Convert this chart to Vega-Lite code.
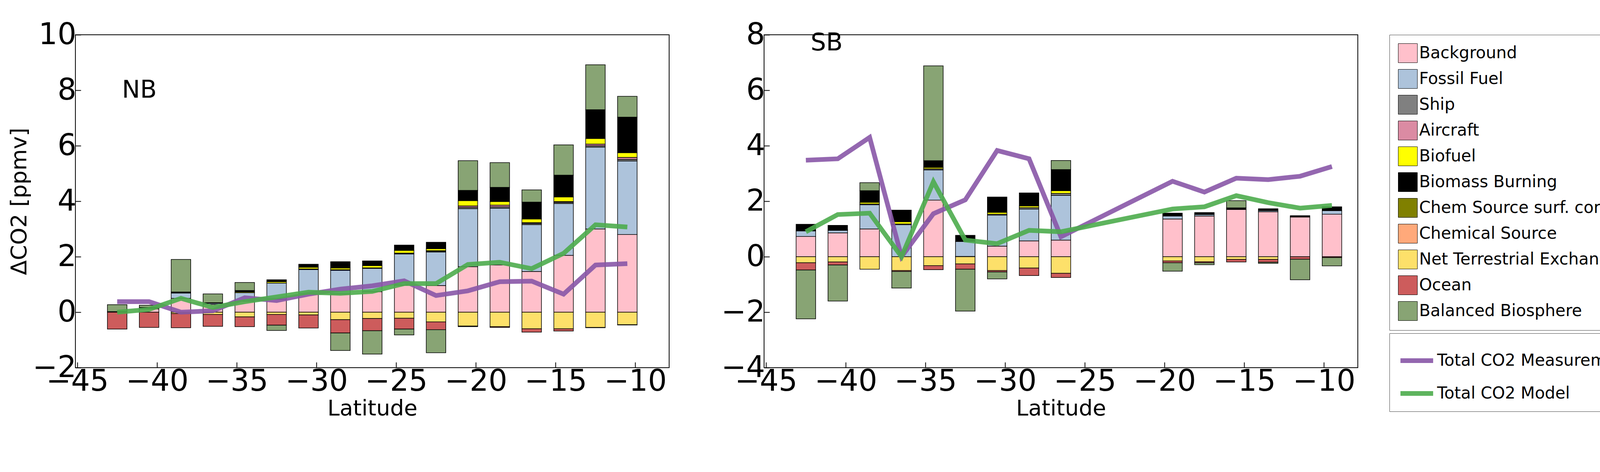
{
"$schema":"https://vega.github.io/schema/vega-lite/v6.json",
"background":"white",
"padding":{"left":20,"top":50,"right":20,"bottom":10},
"config":{"font":"DejaVu Sans","view":{"stroke":"black","strokeWidth":2},
"axis":{"grid":false,"domain":false,"tickColor":"black","tickSize":-14,"tickWidth":2,"labelFontSize":76,"labelColor":"black","titleFontSize":56,"titleFontWeight":"normal","titleColor":"black","labelPadding":12,"format":"d","labelOverlap":false,"labelFlush":false},
"legend":{"strokeColor":"#444","padding":22,"labelFontSize":42,"labelColor":"black","rowPadding":12,"offset":80,"labelLimit":900},
"concat":{"spacing":130}},
"datasets":{
"bars":[
{"p":"NB","lat":-42.5,"c":"Background","v":0.02},{"p":"NB","lat":-42.5,"c":"Balanced Biosphere","v":0.25},{"p":"NB","lat":-42.5,"c":"Ocean","v":-0.61},
{"p":"NB","lat":-40.5,"c":"Background","v":0.12},{"p":"NB","lat":-40.5,"c":"Fossil Fuel","v":0.03},{"p":"NB","lat":-40.5,"c":"Biomass Burning","v":0.02},{"p":"NB","lat":-40.5,"c":"Balanced Biosphere","v":0.08},{"p":"NB","lat":-40.5,"c":"Ocean","v":-0.55},
{"p":"NB","lat":-38.5,"c":"Background","v":0.5},{"p":"NB","lat":-38.5,"c":"Fossil Fuel","v":0.19},{"p":"NB","lat":-38.5,"c":"Biomass Burning","v":0.04},{"p":"NB","lat":-38.5,"c":"Balanced Biosphere","v":1.17},{"p":"NB","lat":-38.5,"c":"Net Terrestrial Exchange","v":-0.05},{"p":"NB","lat":-38.5,"c":"Ocean","v":-0.51},
{"p":"NB","lat":-36.5,"c":"Background","v":0.28},{"p":"NB","lat":-36.5,"c":"Fossil Fuel","v":0.04},{"p":"NB","lat":-36.5,"c":"Biomass Burning","v":0.02},{"p":"NB","lat":-36.5,"c":"Balanced Biosphere","v":0.32},{"p":"NB","lat":-36.5,"c":"Net Terrestrial Exchange","v":-0.08},{"p":"NB","lat":-36.5,"c":"Ocean","v":-0.43},
{"p":"NB","lat":-34.5,"c":"Background","v":0.4},{"p":"NB","lat":-34.5,"c":"Fossil Fuel","v":0.3},{"p":"NB","lat":-34.5,"c":"Biofuel","v":0.03},{"p":"NB","lat":-34.5,"c":"Biomass Burning","v":0.05},{"p":"NB","lat":-34.5,"c":"Balanced Biosphere","v":0.29},{"p":"NB","lat":-34.5,"c":"Net Terrestrial Exchange","v":-0.17},{"p":"NB","lat":-34.5,"c":"Ocean","v":-0.35},
{"p":"NB","lat":-32.5,"c":"Background","v":0.47},{"p":"NB","lat":-32.5,"c":"Fossil Fuel","v":0.58},{"p":"NB","lat":-32.5,"c":"Biofuel","v":0.05},{"p":"NB","lat":-32.5,"c":"Biomass Burning","v":0.07},{"p":"NB","lat":-32.5,"c":"Net Terrestrial Exchange","v":-0.08},{"p":"NB","lat":-32.5,"c":"Ocean","v":-0.39},{"p":"NB","lat":-32.5,"c":"Balanced Biosphere","v":-0.19},
{"p":"NB","lat":-30.5,"c":"Background","v":0.67},{"p":"NB","lat":-30.5,"c":"Fossil Fuel","v":0.87},{"p":"NB","lat":-30.5,"c":"Ship","v":0.02},{"p":"NB","lat":-30.5,"c":"Biofuel","v":0.06},{"p":"NB","lat":-30.5,"c":"Biomass Burning","v":0.11},{"p":"NB","lat":-30.5,"c":"Net Terrestrial Exchange","v":-0.1},{"p":"NB","lat":-30.5,"c":"Ocean","v":-0.47},
{"p":"NB","lat":-28.5,"c":"Background","v":0.66},{"p":"NB","lat":-28.5,"c":"Fossil Fuel","v":0.85},{"p":"NB","lat":-28.5,"c":"Ship","v":0.02},{"p":"NB","lat":-28.5,"c":"Biofuel","v":0.06},{"p":"NB","lat":-28.5,"c":"Biomass Burning","v":0.23},{"p":"NB","lat":-28.5,"c":"Net Terrestrial Exchange","v":-0.27},{"p":"NB","lat":-28.5,"c":"Ocean","v":-0.48},{"p":"NB","lat":-28.5,"c":"Balanced Biosphere","v":-0.63},
{"p":"NB","lat":-26.5,"c":"Background","v":0.74},{"p":"NB","lat":-26.5,"c":"Fossil Fuel","v":0.84},{"p":"NB","lat":-26.5,"c":"Ship","v":0.02},{"p":"NB","lat":-26.5,"c":"Biofuel","v":0.08},{"p":"NB","lat":-26.5,"c":"Biomass Burning","v":0.17},{"p":"NB","lat":-26.5,"c":"Net Terrestrial Exchange","v":-0.23},{"p":"NB","lat":-26.5,"c":"Ocean","v":-0.44},{"p":"NB","lat":-26.5,"c":"Balanced Biosphere","v":-0.84},
{"p":"NB","lat":-24.5,"c":"Background","v":0.98},{"p":"NB","lat":-24.5,"c":"Fossil Fuel","v":1.12},{"p":"NB","lat":-24.5,"c":"Ship","v":0.03},{"p":"NB","lat":-24.5,"c":"Biofuel","v":0.1},{"p":"NB","lat":-24.5,"c":"Biomass Burning","v":0.19},{"p":"NB","lat":-24.5,"c":"Net Terrestrial Exchange","v":-0.22},{"p":"NB","lat":-24.5,"c":"Ocean","v":-0.39},{"p":"NB","lat":-24.5,"c":"Balanced Biosphere","v":-0.21},
{"p":"NB","lat":-22.5,"c":"Background","v":0.96},{"p":"NB","lat":-22.5,"c":"Fossil Fuel","v":1.21},{"p":"NB","lat":-22.5,"c":"Ship","v":0.03},{"p":"NB","lat":-22.5,"c":"Aircraft","v":0.02},{"p":"NB","lat":-22.5,"c":"Biofuel","v":0.07},{"p":"NB","lat":-22.5,"c":"Biomass Burning","v":0.23},{"p":"NB","lat":-22.5,"c":"Net Terrestrial Exchange","v":-0.35},{"p":"NB","lat":-22.5,"c":"Ocean","v":-0.28},{"p":"NB","lat":-22.5,"c":"Balanced Biosphere","v":-0.83},
{"p":"NB","lat":-20.5,"c":"Background","v":1.64},{"p":"NB","lat":-20.5,"c":"Fossil Fuel","v":2.09},{"p":"NB","lat":-20.5,"c":"Ship","v":0.05},{"p":"NB","lat":-20.5,"c":"Aircraft","v":0.05},{"p":"NB","lat":-20.5,"c":"Biofuel","v":0.19},{"p":"NB","lat":-20.5,"c":"Biomass Burning","v":0.37},{"p":"NB","lat":-20.5,"c":"Balanced Biosphere","v":1.07},{"p":"NB","lat":-20.5,"c":"Net Terrestrial Exchange","v":-0.5},{"p":"NB","lat":-20.5,"c":"Ocean","v":-0.02},
{"p":"NB","lat":-18.5,"c":"Background","v":1.7},{"p":"NB","lat":-18.5,"c":"Fossil Fuel","v":2.05},{"p":"NB","lat":-18.5,"c":"Ship","v":0.05},{"p":"NB","lat":-18.5,"c":"Aircraft","v":0.06},{"p":"NB","lat":-18.5,"c":"Biofuel","v":0.13},{"p":"NB","lat":-18.5,"c":"Biomass Burning","v":0.51},{"p":"NB","lat":-18.5,"c":"Balanced Biosphere","v":0.89},{"p":"NB","lat":-18.5,"c":"Net Terrestrial Exchange","v":-0.52},{"p":"NB","lat":-18.5,"c":"Ocean","v":-0.03},
{"p":"NB","lat":-16.5,"c":"Background","v":1.47},{"p":"NB","lat":-16.5,"c":"Fossil Fuel","v":1.69},{"p":"NB","lat":-16.5,"c":"Ship","v":0.04},{"p":"NB","lat":-16.5,"c":"Aircraft","v":0.03},{"p":"NB","lat":-16.5,"c":"Biofuel","v":0.13},{"p":"NB","lat":-16.5,"c":"Biomass Burning","v":0.61},{"p":"NB","lat":-16.5,"c":"Balanced Biosphere","v":0.44},{"p":"NB","lat":-16.5,"c":"Net Terrestrial Exchange","v":-0.6},{"p":"NB","lat":-16.5,"c":"Ocean","v":-0.12},
{"p":"NB","lat":-14.5,"c":"Background","v":2.05},{"p":"NB","lat":-14.5,"c":"Fossil Fuel","v":1.87},{"p":"NB","lat":-14.5,"c":"Ship","v":0.04},{"p":"NB","lat":-14.5,"c":"Aircraft","v":0.03},{"p":"NB","lat":-14.5,"c":"Biofuel","v":0.16},{"p":"NB","lat":-14.5,"c":"Biomass Burning","v":0.79},{"p":"NB","lat":-14.5,"c":"Balanced Biosphere","v":1.09},{"p":"NB","lat":-14.5,"c":"Net Terrestrial Exchange","v":-0.6},{"p":"NB","lat":-14.5,"c":"Ocean","v":-0.08},
{"p":"NB","lat":-12.5,"c":"Background","v":3.0},{"p":"NB","lat":-12.5,"c":"Fossil Fuel","v":2.95},{"p":"NB","lat":-12.5,"c":"Ship","v":0.05},{"p":"NB","lat":-12.5,"c":"Aircraft","v":0.06},{"p":"NB","lat":-12.5,"c":"Biofuel","v":0.2},{"p":"NB","lat":-12.5,"c":"Biomass Burning","v":1.04},{"p":"NB","lat":-12.5,"c":"Balanced Biosphere","v":1.62},{"p":"NB","lat":-12.5,"c":"Net Terrestrial Exchange","v":-0.55},{"p":"NB","lat":-12.5,"c":"Ocean","v":-0.01},
{"p":"NB","lat":-10.5,"c":"Background","v":2.8},{"p":"NB","lat":-10.5,"c":"Fossil Fuel","v":2.65},{"p":"NB","lat":-10.5,"c":"Ship","v":0.06},{"p":"NB","lat":-10.5,"c":"Aircraft","v":0.07},{"p":"NB","lat":-10.5,"c":"Biofuel","v":0.17},{"p":"NB","lat":-10.5,"c":"Biomass Burning","v":1.28},{"p":"NB","lat":-10.5,"c":"Balanced Biosphere","v":0.75},{"p":"NB","lat":-10.5,"c":"Net Terrestrial Exchange","v":-0.45},{"p":"NB","lat":-10.5,"c":"Ocean","v":-0.01},
{"p":"SB","lat":-42.5,"c":"Background","v":0.73},{"p":"SB","lat":-42.5,"c":"Fossil Fuel","v":0.2},{"p":"SB","lat":-42.5,"c":"Ship","v":0.02},{"p":"SB","lat":-42.5,"c":"Biomass Burning","v":0.22},{"p":"SB","lat":-42.5,"c":"Net Terrestrial Exchange","v":-0.22},{"p":"SB","lat":-42.5,"c":"Ocean","v":-0.26},{"p":"SB","lat":-42.5,"c":"Balanced Biosphere","v":-1.76},
{"p":"SB","lat":-40.5,"c":"Background","v":0.86},{"p":"SB","lat":-40.5,"c":"Fossil Fuel","v":0.09},{"p":"SB","lat":-40.5,"c":"Ship","v":0.02},{"p":"SB","lat":-40.5,"c":"Biomass Burning","v":0.16},{"p":"SB","lat":-40.5,"c":"Net Terrestrial Exchange","v":-0.19},{"p":"SB","lat":-40.5,"c":"Ocean","v":-0.11},{"p":"SB","lat":-40.5,"c":"Balanced Biosphere","v":-1.3},
{"p":"SB","lat":-38.5,"c":"Background","v":1.0},{"p":"SB","lat":-38.5,"c":"Fossil Fuel","v":0.87},{"p":"SB","lat":-38.5,"c":"Ship","v":0.03},{"p":"SB","lat":-38.5,"c":"Biofuel","v":0.06},{"p":"SB","lat":-38.5,"c":"Biomass Burning","v":0.42},{"p":"SB","lat":-38.5,"c":"Balanced Biosphere","v":0.29},{"p":"SB","lat":-38.5,"c":"Net Terrestrial Exchange","v":-0.45},
{"p":"SB","lat":-36.5,"c":"Fossil Fuel","v":1.15},{"p":"SB","lat":-36.5,"c":"Ship","v":0.03},{"p":"SB","lat":-36.5,"c":"Biofuel","v":0.08},{"p":"SB","lat":-36.5,"c":"Biomass Burning","v":0.42},{"p":"SB","lat":-36.5,"c":"Net Terrestrial Exchange","v":-0.5},{"p":"SB","lat":-36.5,"c":"Ocean","v":-0.03},{"p":"SB","lat":-36.5,"c":"Balanced Biosphere","v":-0.6},
{"p":"SB","lat":-34.5,"c":"Background","v":2.04},{"p":"SB","lat":-34.5,"c":"Fossil Fuel","v":1.09},{"p":"SB","lat":-34.5,"c":"Ship","v":0.04},{"p":"SB","lat":-34.5,"c":"Biofuel","v":0.05},{"p":"SB","lat":-34.5,"c":"Biomass Burning","v":0.24},{"p":"SB","lat":-34.5,"c":"Balanced Biosphere","v":3.42},{"p":"SB","lat":-34.5,"c":"Net Terrestrial Exchange","v":-0.32},{"p":"SB","lat":-34.5,"c":"Ocean","v":-0.15},
{"p":"SB","lat":-32.5,"c":"Background","v":0.01},{"p":"SB","lat":-32.5,"c":"Fossil Fuel","v":0.54},{"p":"SB","lat":-32.5,"c":"Biomass Burning","v":0.22},{"p":"SB","lat":-32.5,"c":"Net Terrestrial Exchange","v":-0.26},{"p":"SB","lat":-32.5,"c":"Ocean","v":-0.19},{"p":"SB","lat":-32.5,"c":"Balanced Biosphere","v":-1.51},
{"p":"SB","lat":-30.5,"c":"Background","v":0.38},{"p":"SB","lat":-30.5,"c":"Fossil Fuel","v":1.12},{"p":"SB","lat":-30.5,"c":"Ship","v":0.03},{"p":"SB","lat":-30.5,"c":"Biofuel","v":0.07},{"p":"SB","lat":-30.5,"c":"Biomass Burning","v":0.55},{"p":"SB","lat":-30.5,"c":"Net Terrestrial Exchange","v":-0.5},{"p":"SB","lat":-30.5,"c":"Ocean","v":-0.05},{"p":"SB","lat":-30.5,"c":"Balanced Biosphere","v":-0.25},
{"p":"SB","lat":-28.5,"c":"Background","v":0.57},{"p":"SB","lat":-28.5,"c":"Fossil Fuel","v":1.15},{"p":"SB","lat":-28.5,"c":"Ship","v":0.05},{"p":"SB","lat":-28.5,"c":"Biofuel","v":0.06},{"p":"SB","lat":-28.5,"c":"Biomass Burning","v":0.47},{"p":"SB","lat":-28.5,"c":"Net Terrestrial Exchange","v":-0.41},{"p":"SB","lat":-28.5,"c":"Ocean","v":-0.27},
{"p":"SB","lat":-26.5,"c":"Background","v":0.6},{"p":"SB","lat":-26.5,"c":"Fossil Fuel","v":1.61},{"p":"SB","lat":-26.5,"c":"Ship","v":0.07},{"p":"SB","lat":-26.5,"c":"Biofuel","v":0.1},{"p":"SB","lat":-26.5,"c":"Biomass Burning","v":0.76},{"p":"SB","lat":-26.5,"c":"Balanced Biosphere","v":0.33},{"p":"SB","lat":-26.5,"c":"Net Terrestrial Exchange","v":-0.6},{"p":"SB","lat":-26.5,"c":"Ocean","v":-0.15},
{"p":"SB","lat":-19.5,"c":"Background","v":1.36},{"p":"SB","lat":-19.5,"c":"Fossil Fuel","v":0.11},{"p":"SB","lat":-19.5,"c":"Biomass Burning","v":0.1},{"p":"SB","lat":-19.5,"c":"Net Terrestrial Exchange","v":-0.15},{"p":"SB","lat":-19.5,"c":"Ocean","v":-0.07},{"p":"SB","lat":-19.5,"c":"Balanced Biosphere","v":-0.3},
{"p":"SB","lat":-17.5,"c":"Background","v":1.47},{"p":"SB","lat":-17.5,"c":"Fossil Fuel","v":0.05},{"p":"SB","lat":-17.5,"c":"Biomass Burning","v":0.07},{"p":"SB","lat":-17.5,"c":"Net Terrestrial Exchange","v":-0.18},{"p":"SB","lat":-17.5,"c":"Ocean","v":-0.04},{"p":"SB","lat":-17.5,"c":"Balanced Biosphere","v":-0.07},
{"p":"SB","lat":-15.5,"c":"Background","v":1.7},{"p":"SB","lat":-15.5,"c":"Biomass Burning","v":0.06},{"p":"SB","lat":-15.5,"c":"Balanced Biosphere","v":0.26},{"p":"SB","lat":-15.5,"c":"Net Terrestrial Exchange","v":-0.1},{"p":"SB","lat":-15.5,"c":"Ocean","v":-0.09},
{"p":"SB","lat":-13.5,"c":"Background","v":1.62},{"p":"SB","lat":-13.5,"c":"Fossil Fuel","v":0.04},{"p":"SB","lat":-13.5,"c":"Biomass Burning","v":0.07},{"p":"SB","lat":-13.5,"c":"Net Terrestrial Exchange","v":-0.1},{"p":"SB","lat":-13.5,"c":"Ocean","v":-0.1},{"p":"SB","lat":-13.5,"c":"Balanced Biosphere","v":-0.04},
{"p":"SB","lat":-11.5,"c":"Background","v":1.43},{"p":"SB","lat":-11.5,"c":"Fossil Fuel","v":0.02},{"p":"SB","lat":-11.5,"c":"Biomass Burning","v":0.03},{"p":"SB","lat":-11.5,"c":"Ocean","v":-0.09},{"p":"SB","lat":-11.5,"c":"Balanced Biosphere","v":-0.74},
{"p":"SB","lat":-9.5,"c":"Background","v":1.53},{"p":"SB","lat":-9.5,"c":"Fossil Fuel","v":0.13},{"p":"SB","lat":-9.5,"c":"Biomass Burning","v":0.14},{"p":"SB","lat":-9.5,"c":"Ocean","v":-0.03},{"p":"SB","lat":-9.5,"c":"Balanced Biosphere","v":-0.3}
],
"lines":[
{"p":"NB","s":"Total CO2 Measurement","lat":-42.5,"v":0.38},{"p":"NB","s":"Total CO2 Measurement","lat":-40.5,"v":0.38},{"p":"NB","s":"Total CO2 Measurement","lat":-38.5,"v":0.0},{"p":"NB","s":"Total CO2 Measurement","lat":-36.5,"v":0.05},{"p":"NB","s":"Total CO2 Measurement","lat":-34.5,"v":0.52},{"p":"NB","s":"Total CO2 Measurement","lat":-32.5,"v":0.42},{"p":"NB","s":"Total CO2 Measurement","lat":-30.5,"v":0.65},{"p":"NB","s":"Total CO2 Measurement","lat":-28.5,"v":0.83},{"p":"NB","s":"Total CO2 Measurement","lat":-26.5,"v":0.95},{"p":"NB","s":"Total CO2 Measurement","lat":-24.5,"v":1.13},{"p":"NB","s":"Total CO2 Measurement","lat":-22.5,"v":0.6},{"p":"NB","s":"Total CO2 Measurement","lat":-20.5,"v":0.77},{"p":"NB","s":"Total CO2 Measurement","lat":-18.5,"v":1.1},{"p":"NB","s":"Total CO2 Measurement","lat":-16.5,"v":1.12},{"p":"NB","s":"Total CO2 Measurement","lat":-14.5,"v":0.65},{"p":"NB","s":"Total CO2 Measurement","lat":-12.5,"v":1.7},{"p":"NB","s":"Total CO2 Measurement","lat":-10.5,"v":1.75},
{"p":"NB","s":"Total CO2 Model","lat":-42.5,"v":0.0},{"p":"NB","s":"Total CO2 Model","lat":-40.5,"v":0.1},{"p":"NB","s":"Total CO2 Model","lat":-38.5,"v":0.5},{"p":"NB","s":"Total CO2 Model","lat":-36.5,"v":0.17},{"p":"NB","s":"Total CO2 Model","lat":-34.5,"v":0.38},{"p":"NB","s":"Total CO2 Model","lat":-32.5,"v":0.55},{"p":"NB","s":"Total CO2 Model","lat":-30.5,"v":0.72},{"p":"NB","s":"Total CO2 Model","lat":-28.5,"v":0.68},{"p":"NB","s":"Total CO2 Model","lat":-26.5,"v":0.75},{"p":"NB","s":"Total CO2 Model","lat":-24.5,"v":1.03},{"p":"NB","s":"Total CO2 Model","lat":-22.5,"v":1.03},{"p":"NB","s":"Total CO2 Model","lat":-20.5,"v":1.72},{"p":"NB","s":"Total CO2 Model","lat":-18.5,"v":1.8},{"p":"NB","s":"Total CO2 Model","lat":-16.5,"v":1.57},{"p":"NB","s":"Total CO2 Model","lat":-14.5,"v":2.12},{"p":"NB","s":"Total CO2 Model","lat":-12.5,"v":3.15},{"p":"NB","s":"Total CO2 Model","lat":-10.5,"v":3.07},
{"p":"SB","s":"Total CO2 Measurement","lat":-42.5,"v":3.48},{"p":"SB","s":"Total CO2 Measurement","lat":-40.5,"v":3.53},{"p":"SB","s":"Total CO2 Measurement","lat":-38.5,"v":4.3},{"p":"SB","s":"Total CO2 Measurement","lat":-36.5,"v":0.0},{"p":"SB","s":"Total CO2 Measurement","lat":-34.5,"v":1.55},{"p":"SB","s":"Total CO2 Measurement","lat":-32.5,"v":2.05},{"p":"SB","s":"Total CO2 Measurement","lat":-30.5,"v":3.83},{"p":"SB","s":"Total CO2 Measurement","lat":-28.5,"v":3.53},{"p":"SB","s":"Total CO2 Measurement","lat":-26.5,"v":0.72},{"p":"SB","s":"Total CO2 Measurement","lat":-19.5,"v":2.72},{"p":"SB","s":"Total CO2 Measurement","lat":-17.5,"v":2.33},{"p":"SB","s":"Total CO2 Measurement","lat":-15.5,"v":2.83},{"p":"SB","s":"Total CO2 Measurement","lat":-13.5,"v":2.78},{"p":"SB","s":"Total CO2 Measurement","lat":-11.5,"v":2.9},{"p":"SB","s":"Total CO2 Measurement","lat":-9.5,"v":3.25},
{"p":"SB","s":"Total CO2 Model","lat":-42.5,"v":0.9},{"p":"SB","s":"Total CO2 Model","lat":-40.5,"v":1.52},{"p":"SB","s":"Total CO2 Model","lat":-38.5,"v":1.57},{"p":"SB","s":"Total CO2 Model","lat":-36.5,"v":0.0},{"p":"SB","s":"Total CO2 Model","lat":-34.5,"v":2.7},{"p":"SB","s":"Total CO2 Model","lat":-32.5,"v":0.6},{"p":"SB","s":"Total CO2 Model","lat":-30.5,"v":0.47},{"p":"SB","s":"Total CO2 Model","lat":-28.5,"v":0.95},{"p":"SB","s":"Total CO2 Model","lat":-26.5,"v":0.9},{"p":"SB","s":"Total CO2 Model","lat":-19.5,"v":1.72},{"p":"SB","s":"Total CO2 Model","lat":-17.5,"v":1.8},{"p":"SB","s":"Total CO2 Model","lat":-15.5,"v":2.2},{"p":"SB","s":"Total CO2 Model","lat":-13.5,"v":1.95},{"p":"SB","s":"Total CO2 Model","lat":-11.5,"v":1.75},{"p":"SB","s":"Total CO2 Model","lat":-9.5,"v":1.85}
],
"labels":[{"p":"NB","lat":-42.2,"v":8,"t":"NB"},{"p":"SB","lat":-42.2,"v":7.7,"t":"SB"}]
},
"hconcat":[
{"width":1520,"height":852,
"layer":[
{"data":{"name":"bars"},"transform":[{"filter":"datum.p==='NB'"},{"calculate":"indexof(['Background','Fossil Fuel','Ship','Aircraft','Biofuel','Biomass Burning','Chem Source surf. corr.','Chemical Source','Net Terrestrial Exchange','Ocean','Balanced Biosphere'], datum.c)","as":"k"}],"mark":{"type":"bar","size":50,"stroke":"black","strokeWidth":1.5},
"encoding":{"x":{"field":"lat","type":"quantitative","scale":{"domain":[-45,-8],"nice":false},"axis":{"values":[-45,-40,-35,-30,-25,-20,-15,-10]},"title":"Latitude"},
"y":{"field":"v","type":"quantitative","stack":"zero","scale":{"domain":[-2,10],"nice":false},"axis":{"values":[-2,0,2,4,6,8,10]},"title":"ΔCO2 [ppmv]"},
"order":{"field":"k","type":"quantitative"},
"fill":{"field":"c","type":"nominal",
"scale":{"domain":["Background","Fossil Fuel","Ship","Aircraft","Biofuel","Biomass Burning","Chem Source surf. corr.","Chemical Source","Net Terrestrial Exchange","Ocean","Balanced Biosphere"],"range":["#ffc0cb","#adc3db","#808080","#db8ba3","#ffff00","#000000","#808000","#ffa97a","#fde06a","#cd5c5c","#88a474"]},
"legend":{"title":null,"symbolType":"square","symbolSize":2400,"symbolStrokeColor":"black","symbolStrokeWidth":1,"orient":"right"}}}},
{"data":{"name":"lines"},"transform":[{"filter":"datum.p==='NB'"}],"mark":{"type":"line","strokeWidth":12,"opacity":0.9},
"encoding":{"x":{"field":"lat","type":"quantitative"},"y":{"field":"v","type":"quantitative"},
"color":{"field":"s","type":"nominal","scale":{"domain":["Total CO2 Measurement","Total CO2 Model"],"range":["#8856a7","#4dac4d"]},"legend":{"title":null,"symbolType":"stroke","symbolSize":7000,"symbolStrokeWidth":12,"orient":"right"}}}},
{"data":{"name":"labels"},"transform":[{"filter":"datum.p==='NB'"}],"mark":{"type":"text","fontSize":62,"align":"left","baseline":"middle","color":"black"},
"encoding":{"x":{"field":"lat","type":"quantitative"},"y":{"field":"v","type":"quantitative"},"text":{"field":"t"}}}
]},
{"width":1520,"height":852,
"layer":[
{"data":{"name":"bars"},"transform":[{"filter":"datum.p==='SB'"},{"calculate":"indexof(['Background','Fossil Fuel','Ship','Aircraft','Biofuel','Biomass Burning','Chem Source surf. corr.','Chemical Source','Net Terrestrial Exchange','Ocean','Balanced Biosphere'], datum.c)","as":"k"}],"mark":{"type":"bar","size":50,"stroke":"black","strokeWidth":1.5},
"encoding":{"x":{"field":"lat","type":"quantitative","scale":{"domain":[-45,-8],"nice":false},"axis":{"values":[-45,-40,-35,-30,-25,-20,-15,-10]},"title":"Latitude"},
"y":{"field":"v","type":"quantitative","stack":"zero","scale":{"domain":[-4,8],"nice":false},"axis":{"values":[-4,-2,0,2,4,6,8]},"title":null},
"order":{"field":"k","type":"quantitative"},
"fill":{"field":"c","type":"nominal"}}},
{"data":{"name":"lines"},"transform":[{"filter":"datum.p==='SB'"}],"mark":{"type":"line","strokeWidth":12,"opacity":0.9},
"encoding":{"x":{"field":"lat","type":"quantitative"},"y":{"field":"v","type":"quantitative"},"color":{"field":"s","type":"nominal"}}},
{"data":{"name":"labels"},"transform":[{"filter":"datum.p==='SB'"}],"mark":{"type":"text","fontSize":62,"align":"left","baseline":"middle","color":"black"},
"encoding":{"x":{"field":"lat","type":"quantitative"},"y":{"field":"v","type":"quantitative"},"text":{"field":"t"}}}
]}
]
}
